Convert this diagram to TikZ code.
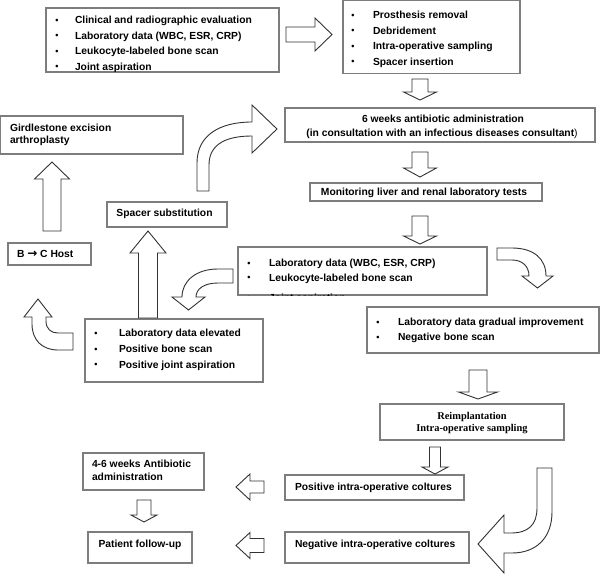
\documentclass[tikz,border=0pt]{standalone}
\usepackage{fontspec}
\setmainfont{Liberation Sans}
\newfontfamily\serifbf{Liberation Serif}
\newfontfamily\djv{DejaVu Sans}
\definecolor{boxgray}{RGB}{125,125,125}
\definecolor{arrgray}{RGB}{50,50,50}
\tikzset{
  box/.style={draw=boxgray, line width=1.1pt, inner sep=0pt, outer sep=0pt, anchor=north west},
  txt/.style={inner sep=0pt, outer sep=0pt, font=\fontsize{10.3}{12}\selectfont\bfseries, text=black},
  rtxt/.style={inner sep=0pt, outer sep=0pt, font=\serifbf\fontsize{10.4}{12}\selectfont\bfseries, text=black},
  blk/.style={draw=arrgray, fill=white, line width=0.9pt, line join=miter},
}
\newcommand\smallbullet{\raisebox{0.5pt}{\fontsize{9}{9}\selectfont\textbullet}}
% name, x, y, bullet offset, text
\newcommand\bl[5]{\node[txt, anchor=base west] (#1) at (#2,#3) {\llap{\smallbullet\hspace{#4pt}}#5};}
% vertical block arrow: cx, ystart, ybase, ytip, half shaft, half head
\newcommand\arrv[6]{\draw[blk] ({#1-#5},#2) -- ({#1+#5},#2) -- ({#1+#5},#3) -- ({#1+#6},#3) -- (#1,#4) -- ({#1-#6},#3) -- ({#1-#5},#3) -- cycle;}
% horizontal block arrow: cy, xstart, xbase, xtip, half shaft, half head
\newcommand\arrh[6]{\draw[blk] (#2,{#1-#5}) -- (#3,{#1-#5}) -- (#3,{#1-#6}) -- (#4,#1) -- (#3,{#1+#6}) -- (#3,{#1+#5}) -- (#2,{#1+#5}) -- cycle;}
\begin{document}
\begin{tikzpicture}[x=1pt,y=-1pt]
\useasboundingbox (0,0) rectangle (600,575);
\fill[white] (0,0) rectangle (600,575);

% ---------- boxes ----------
\node[box, minimum width=233pt, minimum height=64pt] (b1) at (46,8) {};
\node[box, minimum width=177pt, minimum height=72.5pt] (b2) at (343,0.6) {};
\node[box, minimum width=310pt, minimum height=34pt] (b3) at (285,108) {};
\node[box, minimum width=232pt, minimum height=18pt] (b4) at (310,183) {};
\node[box, minimum width=249pt, minimum height=48pt] (b5) at (238,247) {};
\node[box, minimum width=232pt, minimum height=46pt] (b6) at (367,307) {};
\node[box, minimum width=178pt, minimum height=63pt] (b7) at (85,319) {};
\node[box, minimum width=120pt, minimum height=25pt] (b8) at (107,202) {};
\node[box, minimum width=182.4pt, minimum height=38pt] (b9) at (0.6,116) {};
\node[box, minimum width=83pt, minimum height=22pt] (b10) at (8,243) {};
\node[box, minimum width=184pt, minimum height=36pt] (b11) at (380,404) {};
\node[box, minimum width=179pt, minimum height=25pt] (b12) at (285,475) {};
\node[box, minimum width=184pt, minimum height=31pt] (b13) at (285,532) {};
\node[box, minimum width=121pt, minimum height=37pt] (b14) at (83,453) {};
\node[box, minimum width=104pt, minimum height=31pt] (b15) at (88,532) {};

% ---------- texts ----------
\begin{scope}
  \clip (b1.north west) rectangle (b1.south east);
  \bl{t1a}{75}{24}{16.4}{Clinical and radiographic evaluation}
  \bl{t1b}{75}{39.5}{16.4}{Laboratory data (WBC, ESR, CRP)}
  \bl{t1c}{75}{55}{16.4}{Leukocyte-labeled bone scan}
  \bl{t1d}{75}{70.5}{16.4}{Joint aspiration}
\end{scope}
\bl{t2a}{373}{18.7}{18.4}{Prosthesis removal}
\bl{t2b}{373}{34.4}{18.4}{Debridement}
\bl{t2c}{373}{49.7}{18.4}{Intra-operative sampling}
\bl{t2d}{373}{65.4}{18.4}{Spacer insertion}

\node[txt, anchor=base] (t3a) at (443,122.7) {6 weeks antibiotic administration};
\node[txt, anchor=base] (t3b) at (442,136.7) {(in consultation with an infectious diseases consultant\textmd{)}};
\node[txt, anchor=base] (t4) at (424,195.7) {Monitoring liver and renal laboratory tests};

\begin{scope}
  \clip (b5.north west) rectangle (b5.south east);
  \bl{t5a}{269}{266.5}{18.4}{Laboratory data (WBC, ESR, CRP)}
  \bl{t5b}{269}{281.2}{18.4}{Leukocyte-labeled bone scan}
  \bl{t5c}{269}{301.2}{18.4}{Joint aspiration}
\end{scope}
\bl{t6a}{398}{325.7}{18.4}{Laboratory data gradual improvement}
\bl{t6b}{398}{340.7}{18.4}{Negative bone scan}
\bl{t7a}{119}{336.7}{21.4}{Laboratory data elevated}
\bl{t7b}{119}{352.5}{21.4}{Positive bone scan}
\bl{t7c}{119}{368}{21.4}{Positive joint aspiration}

\node[txt, anchor=base] (t8) at (164.5,216.7) {Spacer substitution};
\node[txt, anchor=base west] (t9a) at (10,131.5) {Girdlestone excision};
\node[txt, anchor=base west] (t9b) at (10,144) {arthroplasty};
\node[txt, anchor=base west] (t10) at (17,257.7) {B {\djv\bfseries\fontsize{12}{12}\selectfont →} C Host};
\node[rtxt, anchor=base] (t11a) at (472,419) {Reimplantation};
\node[rtxt, anchor=base] (t11b) at (472,431.5) {Intra-operative sampling};
\node[txt, anchor=base west] (t12) at (295,490) {Positive intra-operative coltures};
\node[txt, anchor=base west] (t13) at (295,547) {Negative intra-operative coltures};
\node[txt, anchor=base west] (t14a) at (92,467.7) {4-6 weeks Antibiotic};
\node[txt, anchor=base west] (t14b) at (92,480.5) {administration};
\node[txt, anchor=base] (t15) at (140,547) {Patient follow-up};

% ---------- straight block arrows ----------
\arrh{34.5}{286}{315}{332}{7.5}{16.5}
\arrv{420}{79}{92}{100}{8}{16.5}
\arrv{420}{152}{168}{177}{8}{16.5}
\arrv{420}{216}{236}{244}{8}{16.5}
\arrv{478}{370}{392}{399}{9}{19.5}
\arrv{435}{447}{467}{474}{5.5}{13}
\arrv{148}{318}{253}{231}{9.5}{18}
\arrv{52}{231}{179}{162}{9}{17.5}
\arrh{487}{264}{250}{236}{6}{13}
\arrh{545.5}{264}{250}{236}{7}{13}
\arrv{144}{500}{515}{522}{7}{13}

% ---------- curved block arrows ----------
% spacer substitution -> 6 weeks
\draw[blk] (197,191) -- (197,163) .. controls (197,135) and (220,122) .. (252,122)
  -- (252,105) -- (277,129) -- (252,153) -- (252,136)
  .. controls (228,136) and (209,143) .. (209,165) -- (209,191) -- cycle;
% lab data -> improvement
\draw[blk] (497,248) -- (512,248) .. controls (534,248) and (546,259) .. (546,276)
  -- (553,276) -- (537.5,288) -- (522,276) -- (529,276)
  .. controls (529,266) and (522,260) .. (512,260) -- (497,260) -- cycle;
% lab data -> elevated
\draw[blk] (233,269) -- (218,269) .. controls (196,269) and (182,281) .. (182,297)
  -- (172,297) -- (188.5,310) -- (205,297) -- (196,297)
  .. controls (196,289) and (204,283) .. (218,283) -- (233,283) -- cycle;
% elevated -> B C host
\draw[blk] (73,333) -- (58,333) .. controls (51,333) and (46,329) .. (46,321)
  -- (46,317) -- (52,317) -- (38,299) -- (24,317) -- (32,317) -- (32,324)
  .. controls (32,340) and (42,350) .. (58,350) -- (73,350) -- cycle;
% reimplantation -> negative
\draw[blk] (552,468) -- (552,512) .. controls (552,538) and (536,553) .. (512,553)
  -- (504,553) -- (504,573) -- (478,544) -- (504,515) -- (504,533) -- (511,533)
  .. controls (528,533) and (537,525) .. (537,508) -- (537,468) -- cycle;
\end{tikzpicture}
\end{document}
